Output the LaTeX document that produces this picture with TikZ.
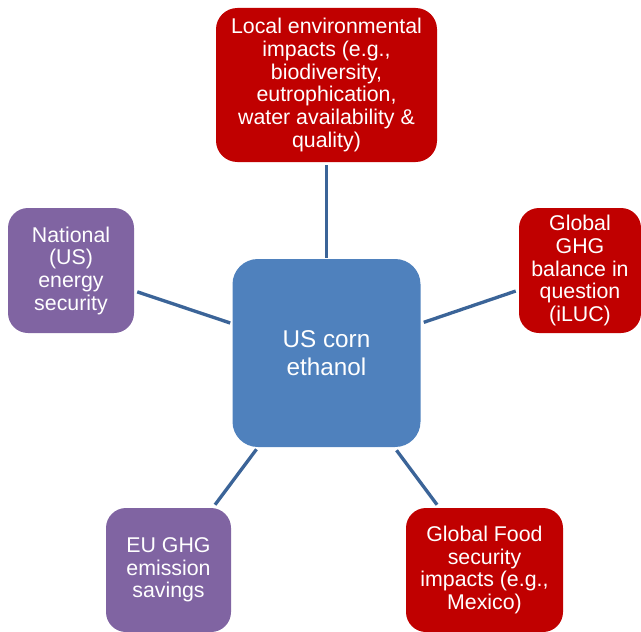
\documentclass[tikz,border=0pt]{standalone}
\usepackage{fontspec}
\setmainfont{Liberation Sans}
\definecolor{hubblue}{HTML}{4F81BD}
\definecolor{impactred}{HTML}{C00000}
\definecolor{benefitpurple}{HTML}{8064A2}
\definecolor{linkblue}{HTML}{3B6498}
\begin{document}
\begin{tikzpicture}[x=0.75pt,y=-0.75pt,
  box/.style={rounded corners=15pt, text=white, align=center, inner sep=0pt,
    font=\fontsize{16}{17}\selectfont},
  redbox/.style={box, fill=impactred},
  purplebox/.style={box, fill=benefitpurple},
  hubbox/.style={box, fill=hubblue, rounded corners=19pt,
    minimum width=141pt, minimum height=141pt,
    font=\fontsize{18.2}{20.5}\selectfont},
  link/.style={draw=linkblue, line width=2.5pt}]
\useasboundingbox (0,0) rectangle (641,631);

% central topic
\node[hubbox] (hub) at (326.5,353) {US corn\\ethanol};

% surrounding effects
\node[redbox, minimum width=165.75pt, minimum height=115.5pt, rounded corners=16pt] (top) at (326.5,85)
  {Local environmental\\impacts (e.g.,\\biodiversity,\\eutrophication,\\water availability \&\\quality)};
\node[purplebox, minimum width=94.5pt, minimum height=93.75pt] (left) at (71,270.5)
  {National\\(US)\\energy\\security};
\node[redbox, minimum width=91.5pt, minimum height=93.75pt] (right) at (580,270.5)
  {Global\\GHG\\balance in\\question\\(iLUC)};
\node[purplebox, minimum width=93.75pt, minimum height=93pt] (bl) at (168.5,570)
  {EU GHG\\emission\\savings};
\node[redbox, minimum width=117.75pt, minimum height=93pt] (br) at (484.5,570)
  {Global Food\\security\\impacts (e.g.,\\Mexico)};

% connectors
\draw[link] ([yshift=-2.25pt]top.south) -- ([yshift=0.75pt]hub.north);
\draw[link] ([xshift=2.25pt,yshift=-16pt]left.east) -- ([xshift=-1.5pt,yshift=22.5pt]hub.west);
\draw[link] ([xshift=2.25pt,yshift=23pt]hub.east) -- ([xshift=-2.25pt,yshift=-15.4pt]right.west);
\draw[link] ([xshift=-52.5pt,yshift=-1.5pt]hub.south) -- ([xshift=34.9pt,yshift=2.25pt]bl.north);
\draw[link] ([xshift=52.5pt,yshift=-2.25pt]hub.south) -- ([xshift=-35.6pt,yshift=2.25pt]br.north);
\end{tikzpicture}
\end{document}
